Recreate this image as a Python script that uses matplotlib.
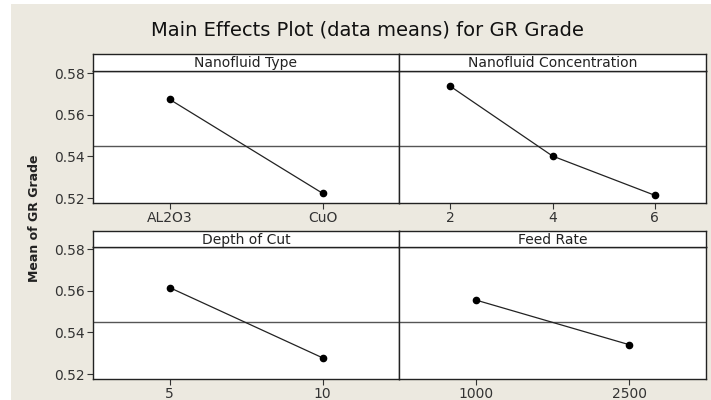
import matplotlib.pyplot as plt
from matplotlib.patches import Rectangle

# data means
type_levels = ['AL2O3', 'CuO']
type_means = [0.5675, 0.5223]
conc_levels = ['2', '4', '6']
conc_means = [0.5738, 0.5402, 0.5213]
depth_levels = ['5', '10']
depth_means = [0.5616, 0.5278]
feed_levels = ['1000', '2500']
feed_means = [0.5556, 0.5341]
grand_mean = 0.5448

y_ticks = [0.52, 0.54, 0.56, 0.58]
y_lim = (0.5176, 0.5811)

W, H = 711, 400
bg = '#ECE9E0'
fig = plt.figure(figsize=(W / 100, H / 100), dpi=100, facecolor='white')
fig.patches.append(Rectangle((11 / W, 0), 1, 1 - 4 / H, transform=fig.transFigure,
                             facecolor=bg, edgecolor='none', zorder=-10))

fig.text(367 / W, 1 - 30 / H, 'Main Effects Plot (data means) for GR Grade',
         ha='center', va='center', fontsize=14, color='#111111')
fig.text(34 / W, 1 - 218 / H, 'Mean of GR Grade', rotation=90, ha='center',
         va='center', fontsize=9, fontweight='bold', color='#222222')

x_left, x_mid, x_right = 93 / W, 399 / W, 706 / W
rows = [(71, 203, 54), (247, 379, 231)]  # data top, data bottom, header top (px)

panels = [
    ('Nanofluid Type', type_levels, type_means, 0, 0),
    ('Nanofluid Concentration', conc_levels, conc_means, 0, 1),
    ('Depth of Cut', depth_levels, depth_means, 1, 0),
    ('Feed Rate', feed_levels, feed_means, 1, 1),
]

for title, levels, means, r, c in panels:
    top, bot, htop = rows[r]
    x0 = x_left if c == 0 else x_mid
    x1 = x_mid if c == 0 else x_right
    ax = fig.add_axes([x0, 1 - bot / H, x1 - x0, (bot - top) / H])
    ax.set_facecolor('white')
    pos = list(range(1, len(levels) + 1))
    ax.axhline(grand_mean, color='#555555', lw=1)
    ax.plot(pos, means, color='#222222', lw=0.9, marker='o', ms=4.5,
            mfc='black', mec='black')
    ax.set_xlim(0.5, len(levels) + 0.5)
    ax.set_ylim(*y_lim)
    ax.set_xticks(pos)
    ax.set_xticklabels(levels)
    ax.set_yticks(y_ticks)
    ax.tick_params(direction='out', length=4, width=0.8, labelsize=10,
                   colors='#333333', pad=2)
    if c == 1:
        ax.tick_params(axis='y', left=False, labelleft=False)
    else:
        ax.set_yticklabels(['%.2f' % v for v in y_ticks])
    for s in ax.spines.values():
        s.set_color('#222222')
        s.set_linewidth(1)

    hax = fig.add_axes([x0, 1 - top / H, x1 - x0, (top - htop) / H])
    hax.set_facecolor('white')
    hax.set_xticks([])
    hax.set_yticks([])
    for s in hax.spines.values():
        s.set_color('#222222')
        s.set_linewidth(1)
    hax.text(0.5, 0.45, title, ha='center', va='center', fontsize=10,
             color='#222222', transform=hax.transAxes)

fig.savefig('out.png', dpi=100, facecolor=fig.get_facecolor())
